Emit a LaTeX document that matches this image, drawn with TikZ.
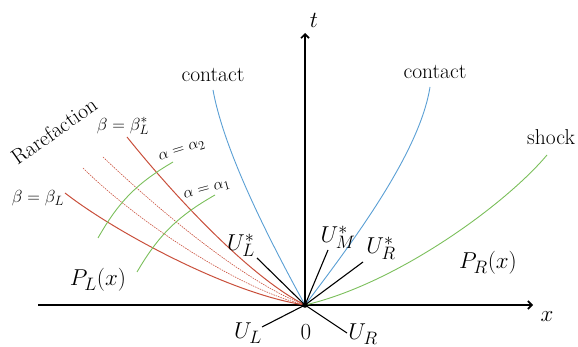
\RequirePackage{fix-cm}
\documentclass[tikz,border=0pt]{standalone}
\usetikzlibrary{arrows.meta}
\DeclareMathSizes{23}{23}{18}{14}
\DeclareMathSizes{17.5}{17.5}{13.5}{10}
\DeclareMathSizes{16}{16}{12.5}{10}
\definecolor{rarred}{HTML}{C9503C}
\definecolor{conblue}{HTML}{5A9FD4}
\definecolor{shkgreen}{HTML}{7BBF5B}
\begin{document}
\begin{tikzpicture}[x=1pt,y=-1pt,
  axisline/.style={line width=1.6pt,-{Straight Barb[length=4pt,width=8pt]}},
  rayline/.style={line width=1.1pt},
  contactline/.style={conblue,line width=0.9pt},
  shockline/.style={shkgreen,line width=0.9pt},
  rarline/.style={rarred,line width=1pt},
  rardash/.style={rarred,line width=0.6pt,dash pattern=on 1.5pt off 1pt},
  biglbl/.style={font=\fontsize{23}{27}\selectfont,inner sep=0pt},
  midlbl/.style={font=\fontsize{17.5}{21}\selectfont,inner sep=0pt},
  smalllbl/.style={font=\fontsize{16}{19}\selectfont,inner sep=0pt},
  wordlbl/.style={font=\fontsize{21.5}{25}\selectfont,inner sep=0pt}]
\useasboundingbox (0,0) rectangle (578,347);
% key points
\coordinate (O) at (305,305);
\coordinate (xl) at (38,305);
\coordinate (xr) at (533,305);
\coordinate (tt) at (305,33);
\coordinate (cLtop) at (213,90);
\coordinate (cRtop) at (430,87);
\coordinate (shtop) at (547,155);
\coordinate (bLs) at (127,137);
\coordinate (d1) at (103,157);
\coordinate (d2) at (83,168);
\coordinate (bL) at (65,193);
\coordinate (a2s) at (98,238);
\coordinate (a2e) at (173,162);
\coordinate (a1s) at (137,272);
\coordinate (a1e) at (215,195);
\coordinate (uls) at (257,258);
\coordinate (ums) at (328,250);
\coordinate (urs) at (363,262);
\coordinate (ul) at (262,327);
\coordinate (ur) at (347,333);
% axes
\draw[axisline] (xl) -- (xr);
\draw[axisline] (O) -- (tt);
% contacts
\draw[contactline] (O) .. controls (266,234) and (224,150) .. (cLtop);
\draw[contactline] (O) .. controls (359,234) and (420,150) .. (cRtop);
% shock
\draw[shockline] (O) .. controls (396,284) and (505,205) .. (shtop);
% rarefaction fan
\draw[rarline] (bLs) .. controls (167,187) and (246,275) .. (O);
\draw[rardash] (d1) .. controls (150,202) and (241,281) .. (O);
\draw[rardash] (d2) .. controls (132,217) and (235,288) .. (O);
\draw[rarline] (bL) .. controls (115,232) and (230,294) .. (O);
% alpha curves
\draw[shockline] (a2s) to[bend left=15] (a2e);
\draw[shockline] (a1s) to[bend left=15] (a1e);
% state rays
\draw[rayline] (uls) -- (O);
\draw[rayline] (ums) -- (O);
\draw[rayline] (urs) -- (O);
\draw[rayline] (O) -- (ul);
\draw[rayline] (O) -- (ur);
\fill (O) circle (2.8pt);
% labels
\node[biglbl] (tlab) at (314,20) {$t$};
\node[biglbl] (xlab) at (547,317) {$x$};
\node[wordlbl] (con1) at (213,75) {contact};
\node[wordlbl] (con2) at (435,72) {contact};
\node[wordlbl,anchor=west] (shk) at (527,137) {shock};
\node[wordlbl,rotate=35] (rar) at (54,131) {Rarefaction};
\node[midlbl] (blsl) at (123,126) {$\beta=\beta_L^*$};
\node[midlbl] (bll) at (38,198) {$\beta=\beta_L$};
\node[smalllbl,rotate=17] (a2l) at (182,151) {$\alpha=\alpha_2$};
\node[smalllbl,rotate=15] (a1l) at (207,190) {$\alpha=\alpha_1$};
\node[biglbl] (pl) at (98,280) {$P_L(x)$};
\node[biglbl] (pr) at (488,263) {$P_R(x)$};
\node[biglbl] (ulsl) at (241,245) {$U_L^*$};
\node[biglbl] (umsl) at (338,237) {$U_M^*$};
\node[biglbl] (ursl) at (381,248) {$U_R^*$};
\node[biglbl] (ull) at (248,333) {$U_L$};
\node[biglbl] (url) at (363,334) {$U_R$};
\node[biglbl] (zero) at (306,332) {$0$};
\end{tikzpicture}
\end{document}
